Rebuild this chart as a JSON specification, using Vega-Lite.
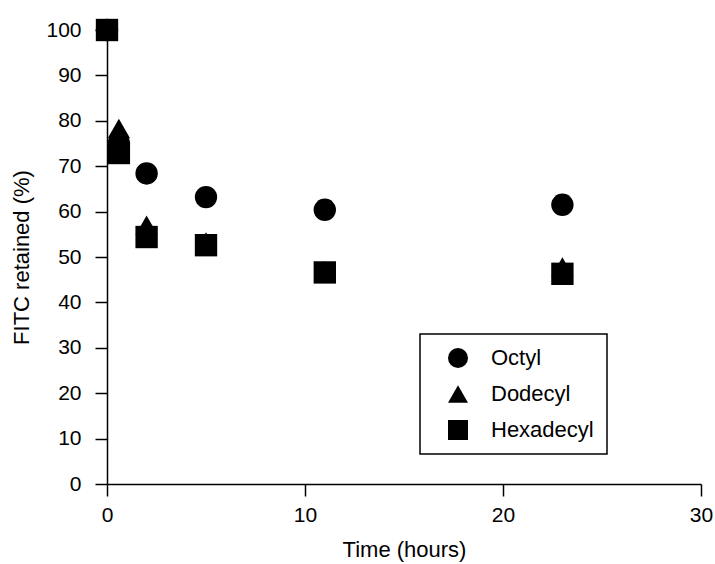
{
  "$schema": "https://vega.github.io/schema/vega-lite/v6.json",
  "width": 594,
  "height": 454,
  "autosize": {"type": "none"},
  "padding": {"left": 107, "top": 30, "right": 14, "bottom": 80},
  "background": "white",
  "config": {
    "view": {"stroke": null},
    "font": "Liberation Sans",
    "axis": {
      "grid": false,
      "domainColor": "black",
      "domainWidth": 1.5,
      "tickColor": "black",
      "tickWidth": 1.5,
      "tickSize": 12,
      "labelColor": "black",
      "labelFont": "Liberation Sans",
      "labelFontSize": 21,
      "labelFlush": false,
      "titleColor": "black",
      "titleFont": "Liberation Sans",
      "titleFontSize": 22,
      "titleFontWeight": "normal"
    },
    "legend": {
      "orient": "none",
      "legendX": 313,
      "legendY": 304,
      "strokeColor": "black",
      "strokeWidth": 1.5,
      "padding": 13,
      "symbolOffset": 14,
      "labelOffset": 22,
      "rowPadding": 14,
      "symbolSize": 400,
      "symbolStrokeWidth": 0,
      "symbolFillColor": "black",
      "labelFont": "Liberation Sans",
      "labelFontSize": 22,
      "labelColor": "black",
      "title": null
    }
  },
  "data": {
    "values": [
      {"series": "Octyl", "time": 0, "retained": 100},
      {"series": "Octyl", "time": 0.6, "retained": 75},
      {"series": "Octyl", "time": 2, "retained": 68.4},
      {"series": "Octyl", "time": 5, "retained": 63.2},
      {"series": "Octyl", "time": 11, "retained": 60.4},
      {"series": "Octyl", "time": 23, "retained": 61.5},
      {"series": "Dodecyl", "time": 0, "retained": 100},
      {"series": "Dodecyl", "time": 0.6, "retained": 78.3},
      {"series": "Dodecyl", "time": 2, "retained": 57},
      {"series": "Dodecyl", "time": 5, "retained": 53.3},
      {"series": "Dodecyl", "time": 11, "retained": 47},
      {"series": "Dodecyl", "time": 23, "retained": 47.8},
      {"series": "Hexadecyl", "time": 0, "retained": 100},
      {"series": "Hexadecyl", "time": 0.6, "retained": 72.9},
      {"series": "Hexadecyl", "time": 2, "retained": 54.4},
      {"series": "Hexadecyl", "time": 5, "retained": 52.6},
      {"series": "Hexadecyl", "time": 11, "retained": 46.6},
      {"series": "Hexadecyl", "time": 23, "retained": 46.3}
    ]
  },
  "mark": {"type": "point", "filled": true, "opacity": 1, "size": 500, "color": "black", "strokeWidth": 0},
  "encoding": {
    "x": {
      "field": "time",
      "type": "quantitative",
      "scale": {"domain": [0, 30], "nice": false, "zero": false},
      "axis": {"title": "Time (hours)", "values": [0, 10, 20, 30], "labelPadding": 8, "titlePadding": 14}
    },
    "y": {
      "field": "retained",
      "type": "quantitative",
      "scale": {"domain": [0, 100], "nice": false, "zero": false},
      "axis": {"title": "FITC retained (%)", "values": [0, 10, 20, 30, 40, 50, 60, 70, 80, 90, 100], "labelPadding": 14, "titlePadding": 12}
    },
    "shape": {
      "field": "series",
      "type": "nominal",
      "scale": {"domain": ["Octyl", "Dodecyl", "Hexadecyl"], "range": ["circle", "triangle-up", "square"]},
      "sort": null
    }
  }
}
